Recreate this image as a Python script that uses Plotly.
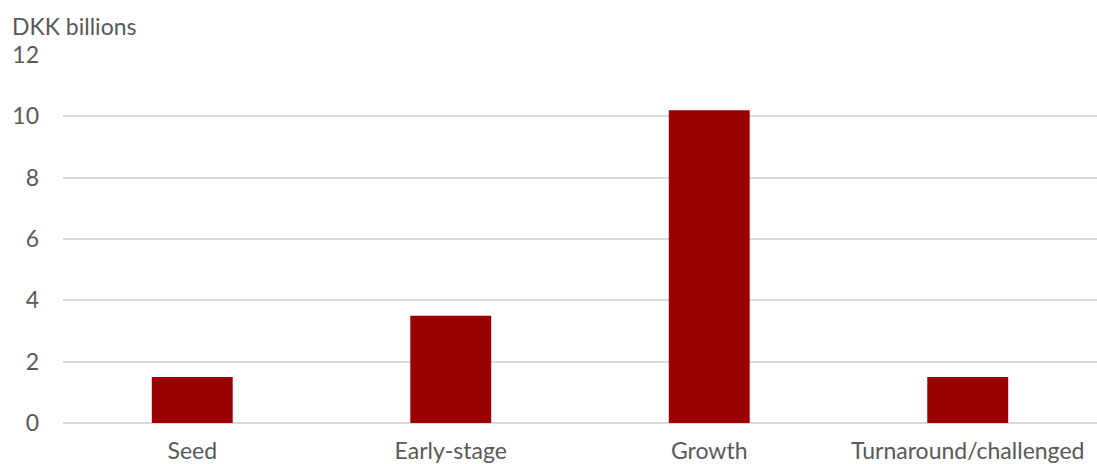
import plotly.graph_objects as go

categories = ["Seed", "Early-stage", "Growth", "Turnaround/challenged"]
values = [1.5, 3.5, 10.2, 1.5]
y_ticks = [0, 2, 4, 6, 8, 10, 12]

fig = go.Figure(go.Bar(x=categories, y=values, marker_color="#990000",
                       marker_line_width=0, width=0.313))

font_family = "Lato, Carlito, Calibri, sans-serif"
fig.update_layout(
    width=1097, height=464,
    margin=dict(l=63, r=0, t=55, b=41),
    paper_bgcolor="white", plot_bgcolor="white",
    font=dict(family=font_family, size=23, color="#595959"),
    showlegend=False,
)
fig.update_xaxes(showgrid=False, showline=False, ticks="", ticklabelstandoff=12,
                 automargin=False, tickfont=dict(size=23, color="#595959"))
fig.update_yaxes(range=[0, 12], tickvals=y_ticks, showgrid=True, gridcolor="#d9d9d9",
                 gridwidth=1.5, zeroline=True, zerolinecolor="#d9d9d9", zerolinewidth=1.5,
                 showline=False, ticks="", ticklabelstandoff=23, automargin=False,
                 tickfont=dict(size=23, color="#595959"))
fig.add_annotation(text="DKK billions", xref="paper", yref="paper", x=-53/1034, y=1,
                   xanchor="left", yanchor="middle", yshift=29, showarrow=False,
                   font=dict(size=23, color="#595959"))
fig.write_html(
    "out.html",
    config={"displayModeBar": False},
    post_script="document.body.style.margin='0';document.body.style.overflow='hidden';",
)
